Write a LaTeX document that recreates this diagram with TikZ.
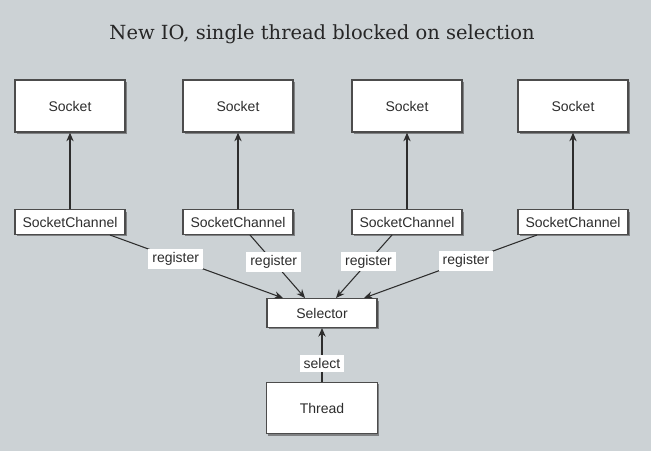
\documentclass[tikz,border=0pt]{standalone}
\usepackage{fontspec}
\setmainfont{Liberation Sans}
\newfontfamily\titlefont{DejaVu Serif}
\usetikzlibrary{arrows.meta,shadows,calc}
\definecolor{bg}{RGB}{204,210,213}
\definecolor{ink}{RGB}{45,45,45}
\tikzset{
  box/.style={draw=ink!85, line width=1pt, fill=white, text=ink, font=\fontsize{10.5}{12}\selectfont,
    inner sep=0pt, drop shadow={shadow xshift=1.3pt, shadow yshift=-1.5pt, fill=black!75, opacity=0.55}},
  sockbox/.style={box, minimum width=82.5pt, minimum height=39pt},
  chanbox/.style={box, minimum width=82.5pt, minimum height=18.5pt},
  selbox/.style={box, minimum width=82.5pt, minimum height=21.5pt},
  thrbox/.style={box, minimum width=83pt, minimum height=38.5pt},
  conn/.style={draw=ink, line width=0.8pt, -{Stealth[length=6.5pt,width=5.5pt]}},
  lbl/.style={fill=white, text=ink, font=\fontsize{10.5}{12}\selectfont, inner xsep=3pt, inner ysep=2.5pt, sloped=false}
}
\begin{document}
\begin{tikzpicture}[x=0.75pt,y=-0.75pt]
\fill[bg] (0,0) rectangle (651,451);
\useasboundingbox (0,0) rectangle (651,451);
\node[text=black!85, font=\titlefont\fontsize{14.6}{16}\selectfont] (title) at (322,34) {New IO, single thread blocked on selection};
\node[sockbox] (s1) at (70,106) {Socket};
\node[sockbox] (s2) at (238,106) {Socket};
\node[sockbox] (s3) at (407,106) {Socket};
\node[sockbox] (s4) at (573,106) {Socket};
\node[chanbox] (c1) at (70,222) {SocketChannel};
\node[chanbox] (c2) at (238,222) {SocketChannel};
\node[chanbox] (c3) at (407,222) {SocketChannel};
\node[chanbox] (c4) at (573,222) {SocketChannel};
\node[selbox] (sel) at (322,313) {Selector};
\node[thrbox] (thr) at (322,408) {Thread};
\foreach \i in {1,...,4} {\draw[conn] (c\i.north) -- (s\i.south);}
\draw[conn] ($(c1.south)+(40,0)$) -- node[lbl, pos=0.38] (l1) {register} ($(sel.north)+(-39,0)$);
\draw[conn] ($(c2.south)+(12,0)$) -- node[lbl, pos=0.43] (l2) {register} ($(sel.north)+(-17,0)$);
\draw[conn] ($(c3.south)+(-15,0)$) -- node[lbl, pos=0.42] (l3) {register} ($(sel.north)+(14,0)$);
\draw[conn] ($(c4.south)+(-36,0)$) -- node[lbl, pos=0.41] (l4) {register} ($(sel.north)+(42,0)$);
\draw[conn] (thr.north) -- node[lbl, pos=0.33] (l5) {select} (sel.south);
\end{tikzpicture}
\end{document}
